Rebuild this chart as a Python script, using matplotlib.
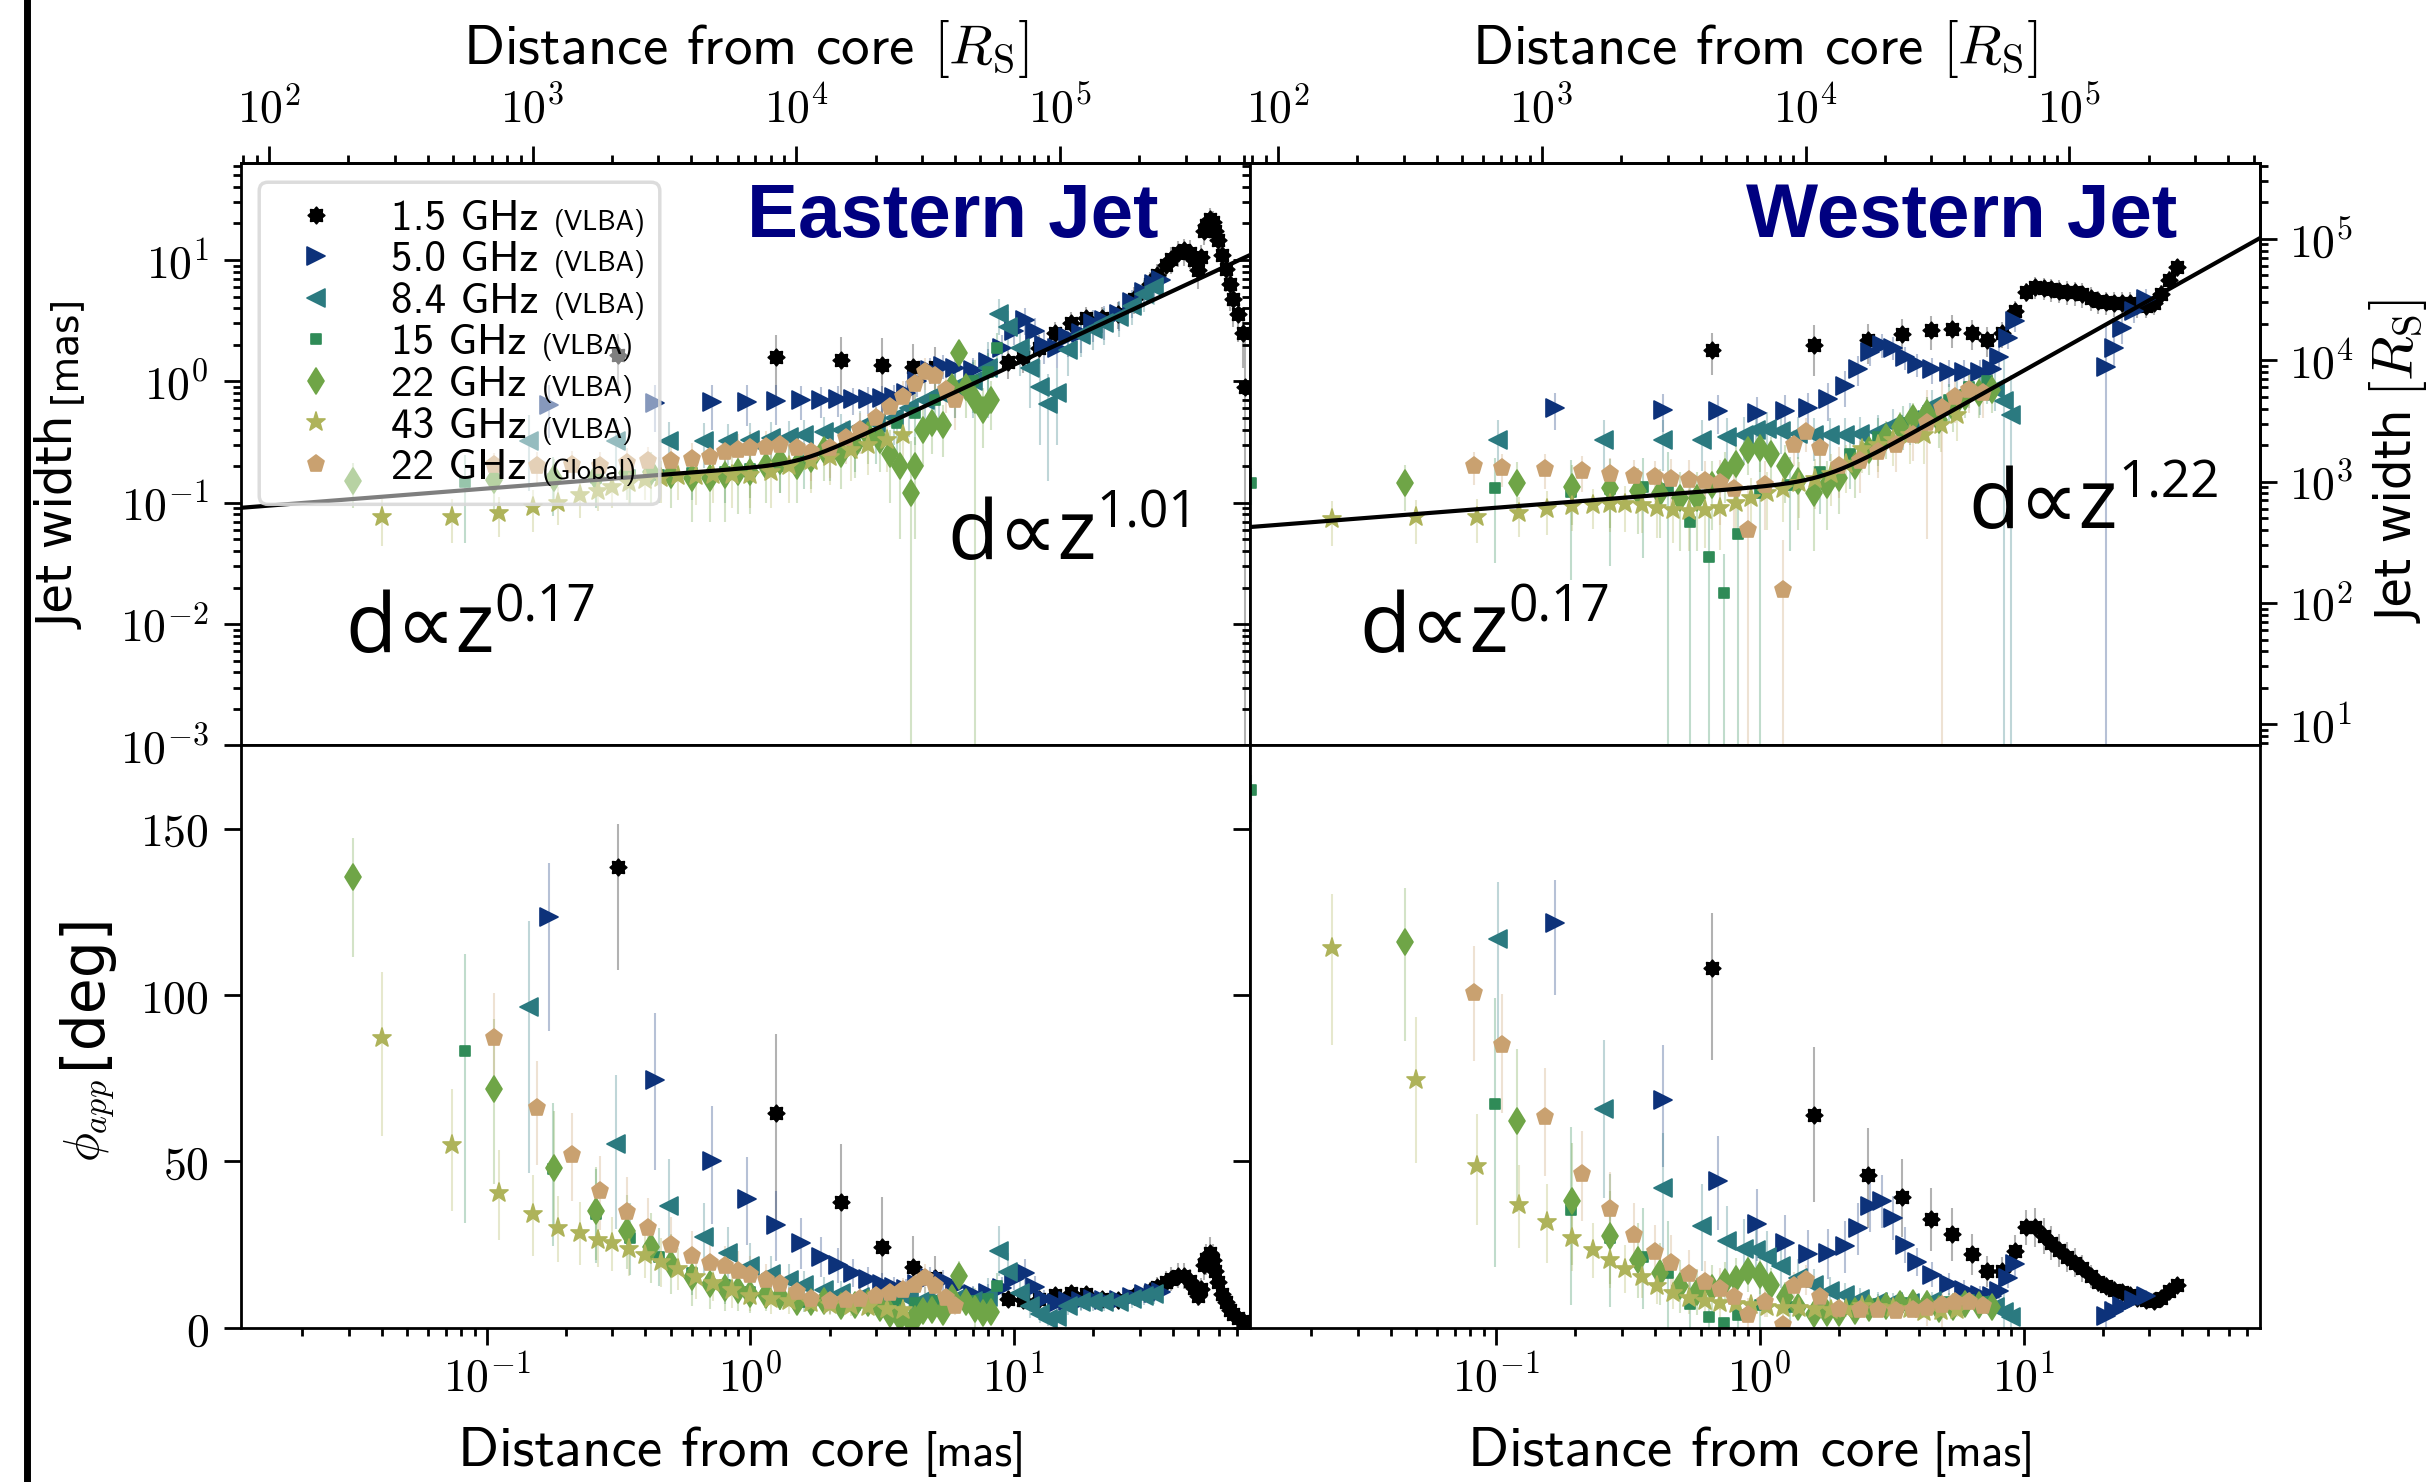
import numpy as np
import matplotlib
matplotlib.use("Agg")
import matplotlib.pyplot as plt
from matplotlib.lines import Line2D
from matplotlib.markers import MarkerStyle
from matplotlib.path import Path
from matplotlib.patches import FancyBboxPatch
from matplotlib.transforms import IdentityTransform
from matplotlib.ticker import FuncFormatter

plt.rcParams['mathtext.fontset'] = 'cm'
plt.rcParams['axes.linewidth'] = 2
plt.rcParams['font.family'] = ['DejaVu Sans']

# 1 mas in Schwarzschild radii
MAS2RS = 10 ** 3.826

# (distance [mas], jet width [mas], width error [mas])
EAST_1P5 = [
    (0.315, 1.66, 0.80), (1.25, 1.58, 0.85), (2.21, 1.51, 0.80), (3.17, 1.36, 0.90),
    (4.13, 1.32, 0.70), (5.00, 1.32, 0.60), (9.5, 1.45, 0.40), (10.8, 1.58, 0.40),
    (12.4, 1.90, 0.50), (14.3, 2.50, 0.60), (16.4, 3.00, 0.70), (18.8, 3.30, 0.80),
    (21.6, 3.30, 0.80), (24.9, 3.60, 0.90), (28.6, 4.80, 1.20), (32.9, 6.30, 1.60),
    (35.0, 7.50, 1.80), (37.8, 9.10, 2.20), (39.5, 10.2, 2.50), (41.9, 11.5, 2.80),
    (44.0, 12.0, 3.00), (46.5, 11.5, 3.00), (48.0, 10.0, 2.60), (49.9, 8.30, 2.50),
    (51.0, 10.5, 2.80), (52.7, 17.4, 4.00), (53.5, 19.5, 4.50), (55.4, 21.9, 5.00),
    (56.8, 20.5, 4.80), (58.1, 17.4, 4.50), (59.5, 14.5, 4.00), (61.5, 11.0, 3.50),
    (63.5, 8.50, 3.00), (65.9, 6.30, 2.50), (68.0, 4.80, 2.00), (70.6, 3.60, 1.50),
    (73.6, 2.50, 1.20), (75.5, 0.90, 1.50),
]
EAST_5 = [
    (0.172, 0.64, 0.30), (0.434, 0.66, 0.28), (0.716, 0.67, 0.27), (0.97, 0.68, 0.25),
    (1.25, 0.69, 0.25), (1.55, 0.70, 0.22), (1.85, 0.70, 0.20), (2.15, 0.71, 0.20),
    (2.45, 0.71, 0.18), (2.8, 0.72, 0.18), (3.15, 0.73, 0.18), (3.5, 0.75, 0.18),
    (3.9, 0.80, 0.20), (4.3, 1.00, 0.25), (4.8, 1.25, 0.30), (5.4, 1.35, 0.30),
    (6.0, 1.30, 0.30), (7.0, 1.25, 0.30), (8.0, 1.45, 0.40), (9.0, 1.90, 0.50),
    (10.0, 2.60, 0.60), (11.0, 3.20, 0.80), (12.0, 2.60, 0.70), (13.0, 2.00, 0.60),
    (14.5, 1.90, 0.60), (16.0, 2.30, 0.70), (18.0, 2.50, 0.80), (20.0, 3.00, 0.90),
    (22.0, 3.20, 1.00), (25.0, 3.60, 1.00), (28.0, 4.50, 1.20), (31.0, 5.50, 1.40),
    (34.0, 6.30, 1.60), (36.0, 6.80, 1.80),
]
EAST_8 = [
    (0.145, 0.325, 0.20), (0.31, 0.325, 0.16), (0.49, 0.325, 0.14), (0.67, 0.325, 0.13),
    (0.82, 0.325, 0.12), (1.0, 0.33, 0.12), (1.2, 0.34, 0.12), (1.4, 0.35, 0.12),
    (1.6, 0.36, 0.12), (1.9, 0.38, 0.13), (2.2, 0.40, 0.14), (2.6, 0.42, 0.15),
    (3.0, 0.45, 0.16), (3.5, 0.50, 0.20), (4.0, 0.60, 0.25), (4.6, 0.70, 0.30),
    (5.2, 0.80, 0.35), (6.0, 0.90, 0.40), (7.0, 1.00, 0.50), (8.0, 1.30, 0.80),
    (8.8, 3.60, 1.20), (9.5, 2.80, 1.00), (10.5, 1.90, 0.80), (11.5, 1.30, 0.70),
    (12.5, 0.90, 0.60), (13.5, 0.65, 0.50), (14.5, 0.80, 0.50), (16.0, 1.80, 0.70),
    (18.0, 2.40, 0.80), (20.0, 2.70, 0.90), (22.0, 3.00, 1.00), (25.0, 3.40, 1.10),
    (28.0, 4.20, 1.30), (31.0, 5.20, 1.50), (34.0, 6.00, 1.70),
]
EAST_15 = [
    (0.083, 0.147, 0.10), (0.178, 0.158, 0.08), (0.26, 0.160, 0.07), (0.35, 0.168, 0.07),
    (0.45, 0.170, 0.07), (0.6, 0.175, 0.07), (0.8, 0.180, 0.08), (1.0, 0.190, 0.08),
    (1.3, 0.200, 0.08), (1.6, 0.220, 0.09), (2.0, 0.250, 0.10), (2.5, 0.300, 0.12),
    (3.0, 0.360, 0.15), (3.6, 0.450, 0.20), (4.2, 0.550, 0.25), (5.0, 0.700, 0.30),
    (6.0, 0.850, 0.35), (7.0, 1.000, 0.45), (8.0, 1.200, 0.50), (8.6, 1.900, 0.60),
]
EAST_22 = [
    (0.031, 0.151, 0.06), (0.107, 0.155, 0.07), (0.18, 0.160, 0.07), (0.26, 0.164, 0.07),
    (0.34, 0.176, 0.07), (0.42, 0.180, 0.08), (0.50, 0.170, 0.08), (0.60, 0.160, 0.09),
    (0.70, 0.160, 0.09), (0.80, 0.170, 0.10), (0.90, 0.180, 0.10), (1.0, 0.180, 0.10),
    (1.15, 0.200, 0.10), (1.3, 0.220, 0.10), (1.5, 0.200, 0.10), (1.7, 0.230, 0.10),
    (1.9, 0.270, 0.12), (2.2, 0.250, 0.12), (2.5, 0.300, 0.14), (2.8, 0.360, 0.15),
    (3.1, 0.330, 0.15), (3.4, 0.250, 0.15), (3.7, 0.200, 0.15), (4.07, 0.120, 0.20),
    (4.2, 0.200, 0.15), (4.5, 0.400, 0.20), (4.9, 0.450, 0.20), (5.4, 0.440, 0.20),
    (5.8, 0.900, 0.30), (6.2, 1.700, 0.50), (6.6, 0.900, 0.40), (7.1, 0.700, 0.80),
    (7.6, 0.580, 0.30), (8.2, 0.700, 0.30),
]
EAST_43 = [
    (0.040, 0.076, 0.032), (0.074, 0.077, 0.030), (0.111, 0.082, 0.030), (0.15, 0.092, 0.035),
    (0.187, 0.100, 0.035), (0.226, 0.115, 0.040), (0.265, 0.125, 0.040), (0.30, 0.135, 0.045),
    (0.345, 0.145, 0.050), (0.40, 0.155, 0.050), (0.46, 0.160, 0.060), (0.53, 0.165, 0.060),
    (0.62, 0.165, 0.070), (0.72, 0.170, 0.070), (0.85, 0.170, 0.080), (1.0, 0.170, 0.080),
    (1.2, 0.180, 0.090), (1.4, 0.200, 0.100), (1.7, 0.220, 0.100), (2.0, 0.240, 0.100),
    (2.4, 0.270, 0.120), (2.8, 0.300, 0.130), (3.3, 0.330, 0.150), (3.8, 0.360, 0.150),
]
EAST_GL = [
    (0.107, 0.203, 0.055), (0.155, 0.201, 0.06), (0.21, 0.205, 0.06), (0.27, 0.202, 0.06),
    (0.34, 0.214, 0.07), (0.41, 0.220, 0.07), (0.50, 0.220, 0.08), (0.60, 0.230, 0.08),
    (0.70, 0.240, 0.09), (0.80, 0.260, 0.09), (0.90, 0.270, 0.10), (1.0, 0.280, 0.10),
    (1.15, 0.290, 0.10), (1.3, 0.300, 0.11), (1.5, 0.280, 0.11), (1.7, 0.260, 0.11),
    (2.0, 0.280, 0.12), (2.3, 0.340, 0.13), (2.6, 0.400, 0.15), (3.0, 0.500, 0.18),
    (3.4, 0.620, 0.20), (3.8, 0.750, 0.25), (4.2, 0.950, 0.30), (4.6, 1.200, 0.35),
    (5.0, 1.100, 0.35), (5.5, 0.850, 0.30), (6.0, 0.700, 0.30),
]

WEST_1P5 = [
    (0.66, 1.82, 0.70), (1.6, 2.00, 0.90), (2.58, 2.19, 0.80), (3.45, 2.47, 0.80),
    (4.47, 2.63, 0.80), (5.38, 2.70, 0.80), (6.4, 2.50, 0.70), (7.3, 2.19, 0.60),
    (8.3, 2.50, 0.60), (9.3, 3.80, 0.80), (10.2, 5.50, 1.00), (11.1, 6.00, 1.20),
    (12.0, 5.90, 1.20), (12.7, 5.75, 1.20), (13.6, 5.60, 1.20), (14.6, 5.50, 1.20),
    (15.6, 5.40, 1.20), (16.7, 5.25, 1.20), (18.0, 4.90, 1.10), (19.2, 4.60, 1.00),
    (20.5, 4.50, 1.00), (22.0, 4.40, 1.00), (23.6, 4.40, 1.00), (25.3, 4.40, 1.00),
    (27.0, 4.30, 1.00), (29.0, 4.20, 0.90), (31.1, 4.40, 0.90), (33.3, 5.25, 1.00),
    (35.7, 6.90, 1.20), (38.2, 8.70, 1.50),
]
WEST_5 = [
    (0.168, 0.600, 0.20), (0.43, 0.586, 0.20), (0.695, 0.565, 0.20), (0.98, 0.545, 0.20),
    (1.25, 0.565, 0.20), (1.53, 0.600, 0.20), (1.82, 0.720, 0.25), (2.1, 0.910, 0.30),
    (2.36, 1.260, 0.35), (2.62, 1.740, 0.40), (2.9, 2.000, 0.45), (3.2, 1.900, 0.40),
    (3.57, 1.580, 0.35), (3.95, 1.380, 0.30), (4.5, 1.260, 0.30), (5.2, 1.200, 0.30),
    (5.97, 1.200, 0.30), (6.85, 1.200, 0.30), (7.6, 1.260, 0.30), (8.1, 1.580, 0.35),
    (8.7, 2.290, 0.45), (9.3, 3.160, 0.60), (20.6, 1.320, 1.60), (22.0, 1.900, 0.60),
    (23.6, 2.750, 0.70), (26.2, 3.800, 0.80), (29.0, 4.800, 1.00),
]
WEST_8 = [
    (0.102, 0.331, 0.15), (0.256, 0.331, 0.15), (0.43, 0.331, 0.15), (0.605, 0.331, 0.15),
    (0.75, 0.346, 0.15), (0.87, 0.363, 0.15), (0.97, 0.400, 0.15), (1.07, 0.405, 0.15),
    (1.2, 0.390, 0.14), (1.4, 0.370, 0.14), (1.6, 0.360, 0.14), (1.85, 0.360, 0.14),
    (2.1, 0.360, 0.14), (2.4, 0.370, 0.14), (2.8, 0.380, 0.15), (3.2, 0.440, 0.15),
    (3.7, 0.480, 0.18), (4.5, 0.630, 0.22), (5.6, 0.760, 0.25), (6.85, 0.830, 0.30),
    (7.8, 0.870, 0.30), (8.4, 0.690, 0.80), (9.0, 0.525, 0.60),
]
WEST_15 = [
    (0.0118, 0.145, 0.05), (0.099, 0.132, 0.10), (0.192, 0.123, 0.10), (0.27, 0.130, 0.10),
    (0.36, 0.135, 0.10), (0.45, 0.130, 0.13), (0.546, 0.069, 0.08), (0.64, 0.036, 0.04),
    (0.734, 0.018, 0.02), (0.825, 0.055, 0.06), (1.0, 0.120, 0.12), (1.3, 0.140, 0.10),
    (1.7, 0.180, 0.10), (2.2, 0.250, 0.12), (2.8, 0.350, 0.15), (3.5, 0.450, 0.18),
    (4.3, 0.550, 0.20), (5.2, 0.700, 0.25), (6.2, 0.900, 0.30), (7.3, 1.000, 0.35),
]
WEST_22 = [
    (0.0454, 0.145, 0.06), (0.12, 0.145, 0.07), (0.195, 0.135, 0.07), (0.27, 0.132, 0.07),
    (0.345, 0.125, 0.07), (0.42, 0.121, 0.07), (0.50, 0.110, 0.07), (0.58, 0.110, 0.07),
    (0.66, 0.140, 0.08), (0.74, 0.180, 0.08), (0.81, 0.210, 0.09), (0.90, 0.270, 0.10),
    (1.0, 0.280, 0.10), (1.1, 0.250, 0.10), (1.25, 0.200, 0.10), (1.4, 0.150, 0.09),
    (1.6, 0.120, 0.08), (1.8, 0.140, 0.08), (2.0, 0.160, 0.08), (2.3, 0.200, 0.09),
    (2.6, 0.270, 0.10), (3.0, 0.350, 0.12), (3.4, 0.420, 0.14), (3.8, 0.500, 0.16),
    (4.3, 0.550, 0.20), (4.8, 0.480, 0.20), (5.4, 0.600, 0.22), (6.0, 0.750, 0.25),
    (6.8, 0.800, 0.30), (7.6, 0.850, 0.30),
]
WEST_43 = [
    (0.024, 0.074, 0.030), (0.05, 0.076, 0.030), (0.085, 0.077, 0.030), (0.123, 0.082, 0.030),
    (0.156, 0.089, 0.035), (0.195, 0.094, 0.035), (0.233, 0.096, 0.035), (0.27, 0.097, 0.040),
    (0.31, 0.097, 0.040), (0.357, 0.096, 0.040), (0.41, 0.091, 0.040), (0.47, 0.087, 0.040),
    (0.54, 0.085, 0.045), (0.62, 0.087, 0.045), (0.71, 0.091, 0.050), (0.81, 0.100, 0.050),
    (0.93, 0.110, 0.050), (1.07, 0.120, 0.060), (1.23, 0.130, 0.060), (1.41, 0.145, 0.070),
    (1.62, 0.158, 0.070), (1.86, 0.174, 0.080), (2.13, 0.210, 0.090), (2.44, 0.275, 0.100),
    (2.8, 0.300, 0.120), (3.2, 0.330, 0.130), (3.7, 0.360, 0.150), (4.2, 0.360, 0.150),
    (4.85, 0.440, 0.180), (5.6, 0.525, 0.200),
]
WEST_GL = [
    (0.083, 0.200, 0.06), (0.106, 0.194, 0.06), (0.154, 0.190, 0.06), (0.213, 0.182, 0.06),
    (0.27, 0.174, 0.06), (0.333, 0.166, 0.06), (0.40, 0.162, 0.06), (0.46, 0.158, 0.07),
    (0.54, 0.155, 0.07), (0.62, 0.150, 0.07), (0.71, 0.145, 0.08), (0.80, 0.130, 0.08),
    (0.90, 0.060, 0.08), (1.05, 0.140, 0.08), (1.23, 0.019, 0.03), (1.35, 0.300, 0.10),
    (1.5, 0.380, 0.12), (1.7, 0.280, 0.10), (2.0, 0.200, 0.09), (2.4, 0.220, 0.10),
    (2.8, 0.260, 0.10), (3.3, 0.300, 0.12), (3.8, 0.360, 0.14), (4.3, 0.450, 0.40),
    (4.9, 0.600, 0.60), (5.5, 0.750, 0.30), (6.2, 0.850, 0.30), (7.0, 0.800, 0.30),
]

FREQS = ['1.5', '5.0', '8.4', '15', '22', '43', '22']
ARRAYS = ['VLBA', 'VLBA', 'VLBA', 'VLBA', 'VLBA', 'VLBA', 'Global']
EAST = [EAST_1P5, EAST_5, EAST_8, EAST_15, EAST_22, EAST_43, EAST_GL]
WEST = [WEST_1P5, WEST_5, WEST_8, WEST_15, WEST_22, WEST_43, WEST_GL]

# broken power-law fits: break distance, width at break, inner / outer index
EAST_FIT = (1.55, 0.2085, 0.17, 1.01)
WEST_FIT = (1.77, 0.148, 0.17, 1.22)

COLORS = ['#000000', '#0d327a', '#2b7a80', '#2f8b57', '#6fa547', '#aeb35a', '#c9a170']
MARKERS = [MarkerStyle(Path.unit_regular_star(8, 0.72), joinstyle='round'),
           MarkerStyle('>', joinstyle='round'), MarkerStyle('<', joinstyle='round'),
           MarkerStyle('s', joinstyle='round'), MarkerStyle('d', joinstyle='round'),
           MarkerStyle('*', joinstyle='round'), MarkerStyle('p', joinstyle='round')]
MSIZE = [12, 12.5, 12.5, 7, 13.5, 14, 12.5]

XLIM = (0.0117, 78.5)
TICK_FS = 33
LEG_FS = 31

fig = plt.figure(figsize=(24.35, 14.82), dpi=100)
L, M, R = 0.099, 0.5133, 0.928
B, H, T = 0.104, 0.497, 0.890
ax_tl = fig.add_axes([L, H, M - L, T - H])
ax_tr = fig.add_axes([M, H, R - M, T - H])
ax_bl = fig.add_axes([L, B, M - L, H - B])
ax_br = fig.add_axes([M, B, R - M, H - B])


def draw(ax_w, ax_p, sets):
    hs = []
    for d, c, m, ms in zip(sets, COLORS, MARKERS, MSIZE):
        z, w, e = np.array(d).T
        ax_w.errorbar(z, w, yerr=e, fmt='none', ecolor=c, alpha=0.3, elinewidth=1.5, zorder=1)
        h, = ax_w.plot(z, w, ls='none', marker=m, ms=ms, color=c, mec=c, mew=1.2, zorder=2)
        hs.append(h)
        # apparent opening angle from width and distance
        phi = 2 * np.degrees(np.arctan(w / (2 * z)))
        lo = 2 * np.degrees(np.arctan(np.clip(w - e, 0, None) / (2 * z)))
        hi = 2 * np.degrees(np.arctan((w + e) / (2 * z)))
        ax_p.errorbar(z, phi, yerr=[phi - lo, hi - phi], fmt='none', ecolor=c, alpha=0.3,
                      elinewidth=1.5, zorder=1)
        ax_p.plot(z, phi, ls='none', marker=m, ms=ms, color=c, mec=c, mew=1.2, zorder=2)
    return hs


def fit_line(ax, fit, s):
    zb, db, k1, k2 = fit
    z = np.logspace(np.log10(XLIM[0]), np.log10(XLIM[1]), 400)
    r = z / zb
    d = db * r ** k1 * (1 + r ** (s * (k2 - k1))) ** (1 / s)
    ax.plot(z, d, color='k', lw=3, zorder=4)


handles = draw(ax_tl, ax_bl, EAST)
draw(ax_tr, ax_br, WEST)
fit_line(ax_tl, EAST_FIT, 8)
fit_line(ax_tr, WEST_FIT, 5)

log_fmt = FuncFormatter(lambda v, p: r'$10^{%d}$' % int(round(np.log10(v))))
lin_fmt = FuncFormatter(lambda v, p: r'$%d$' % int(round(v)))


def style_ticks(a):
    a.tick_params(which='both', direction='out', width=2, labelsize=TICK_FS)
    a.tick_params(which='major', length=12)
    a.tick_params(which='minor', length=6)


for ax in (ax_tl, ax_tr, ax_bl, ax_br):
    ax.set_xscale('log')
    style_ticks(ax)
    ax.tick_params(which='both', right=False, top=False)
    ax.set_xticks([0.1, 1, 10])
    ax.xaxis.set_major_formatter(log_fmt)
    ax.set_xlim(*XLIM)
for ax in (ax_tl, ax_tr):
    ax.set_yscale('log')
    ax.set_yticks([1e-3, 1e-2, 1e-1, 1, 10])
    ax.set_ylim(1e-3, 63)
    ax.yaxis.set_major_formatter(log_fmt)
    ax.tick_params(axis='x', which='both', bottom=False, labelbottom=False)
for ax in (ax_bl, ax_br):
    ax.set_ylim(0, 175)
    ax.set_yticks([0, 50, 100, 150])
    ax.yaxis.set_major_formatter(lin_fmt)
    ax.tick_params(axis='x', which='both', pad=8)
for ax in (ax_tr, ax_br):
    ax.tick_params(axis='y', which='both', labelleft=False)
for ax in (ax_tl, ax_bl):
    ax.tick_params(axis='y', which='both', pad=11)


def to_rs(x):
    return np.asarray(x) * MAS2RS


def to_mas(x):
    return np.asarray(x) / MAS2RS


for ax in (ax_tl, ax_tr):
    sec = ax.secondary_xaxis('top', functions=(to_rs, to_mas))
    style_ticks(sec)
    sec.tick_params(pad=10)
    sec.set_xticks([1e2, 1e3, 1e4, 1e5])
    sec.xaxis.set_major_formatter(log_fmt)
secy = ax_tr.secondary_yaxis('right', functions=(to_rs, to_mas))
style_ticks(secy)
secy.tick_params(pad=9)
secy.set_yticks([1e1, 1e2, 1e3, 1e4, 1e5])
secy.yaxis.set_major_formatter(log_fmt)

# panel titles and power-law annotations
for ax, name in ((ax_tl, 'Eastern Jet'), (ax_tr, 'Western Jet')):
    ax.text(0.705, 0.873, name, transform=ax.transAxes, ha='center', va='baseline',
            fontsize=55, fontweight='bold', color='#000080', family='Liberation Sans')


def power_label(ax, x, y, k):
    t = ax.text(x, y, 'd\u221dz', transform=ax.transAxes, ha='left', va='baseline',
                fontsize=60, family=['Open Sans', 'DejaVu Sans'])
    ax.annotate(k, xy=(1.0, 0.62), xycoords=t, ha='left', va='baseline',
                fontsize=37, family=['Open Sans', 'DejaVu Sans'])


power_label(ax_tl, 0.103, 0.16, '0.17')
power_label(ax_tl, 0.700, 0.32, '1.01')
power_label(ax_tr, 0.108, 0.16, '0.17')
power_label(ax_tr, 0.712, 0.373, '1.22')

# legend: frequency in large type; array name added afterwards in small type,
# so the (semi-transparent) frame is drawn by hand to cover both
labels = [f'{f} GHz' for f in FREQS]
leg = ax_tl.legend(handles, labels, loc='upper left', bbox_to_anchor=(0.018, 0.967),
                   borderaxespad=0, prop={'family': 'cmss10', 'size': LEG_FS},
                   labelspacing=0.08, handlelength=1.85, handletextpad=0.8, frameon=False)
leg.set_zorder(5)


def label_pair(x, y, big, small, fb, fs, rot=0, gap=10, fam_b=None, fam_s=None):
    t = fig.text(x, y, big, fontsize=fb, rotation=rot, rotation_mode='anchor',
                 ha='left', va='baseline', family=fam_b)
    if rot:
        ax_tl.annotate(small, xy=(x, 1.0), xycoords=('figure fraction', t),
                       xytext=(0, gap), textcoords='offset points', rotation=rot,
                       rotation_mode='anchor', ha='left', va='baseline', fontsize=fs,
                       family=fam_s, annotation_clip=False)
    else:
        ax_tl.annotate(small, xy=(1.0, y), xycoords=(t, 'figure fraction'),
                       xytext=(gap, 0), textcoords='offset points', ha='left',
                       va='baseline', fontsize=fs, family=fam_s, annotation_clip=False)


label_pair(0.0308, 0.5756, 'Jet width', '[mas]', 35, 27, rot=90)
label_pair(0.041, 0.216, r'$\phi_{app}$', '[deg]', 35, 42, rot=90, gap=8)
label_pair(0.991, 0.5796, 'Jet width', r'$[R_\mathrm{S}]$', 35, 42, rot=90)
label_pair(0.1881, 0.0105, 'Distance from core', '[mas]', 41, 33, fam_b='cmss10', fam_s='cmss10')
label_pair(0.6027, 0.0105, 'Distance from core', '[mas]', 41, 33, fam_b='cmss10', fam_s='cmss10')
for xc in ((L + M) / 2, (M + R) / 2):
    fig.text(xc, 0.957, r'Distance from core $[R_\mathrm{S}]$', ha='center', va='baseline',
             fontsize=41, family='cmss10')

fig.add_artist(Line2D([0.0109, 0.0109], [0, 1], transform=fig.transFigure, color='k', lw=5))

# small array names next to the legend entries, then the frame around all
fig.canvas.draw()
rend = fig.canvas.get_renderer()
right = 0
for t, a in zip(leg.get_texts(), ARRAYS):
    x0, y0 = t.get_transform().transform(t.get_position())
    wbig = t.get_window_extent(rend).width
    fx, fy = fig.transFigure.inverted().transform((x0 + wbig + 16, y0))
    s = fig.text(fx, fy, f'({a})', fontsize=20, family='cmss10', ha='left', va='baseline',
                 zorder=10)
    right = max(right, s.get_window_extent(rend).x1)
bb = leg.get_window_extent(rend)
fs_px = LEG_FS * fig.dpi / 72
frame = FancyBboxPatch((bb.x0, bb.y0), right + 14 - bb.x0, bb.height,
                       boxstyle=f'round,pad=0,rounding_size={0.2 * fs_px}',
                       transform=IdentityTransform(), linewidth=2.5, zorder=4.5,
                       clip_on=False)
frame.set_facecolor((1, 1, 1, 0.5))
frame.set_edgecolor((0.85, 0.85, 0.85, 0.9))
ax_tl.add_artist(frame)

fig.savefig('out.png', dpi=100)
